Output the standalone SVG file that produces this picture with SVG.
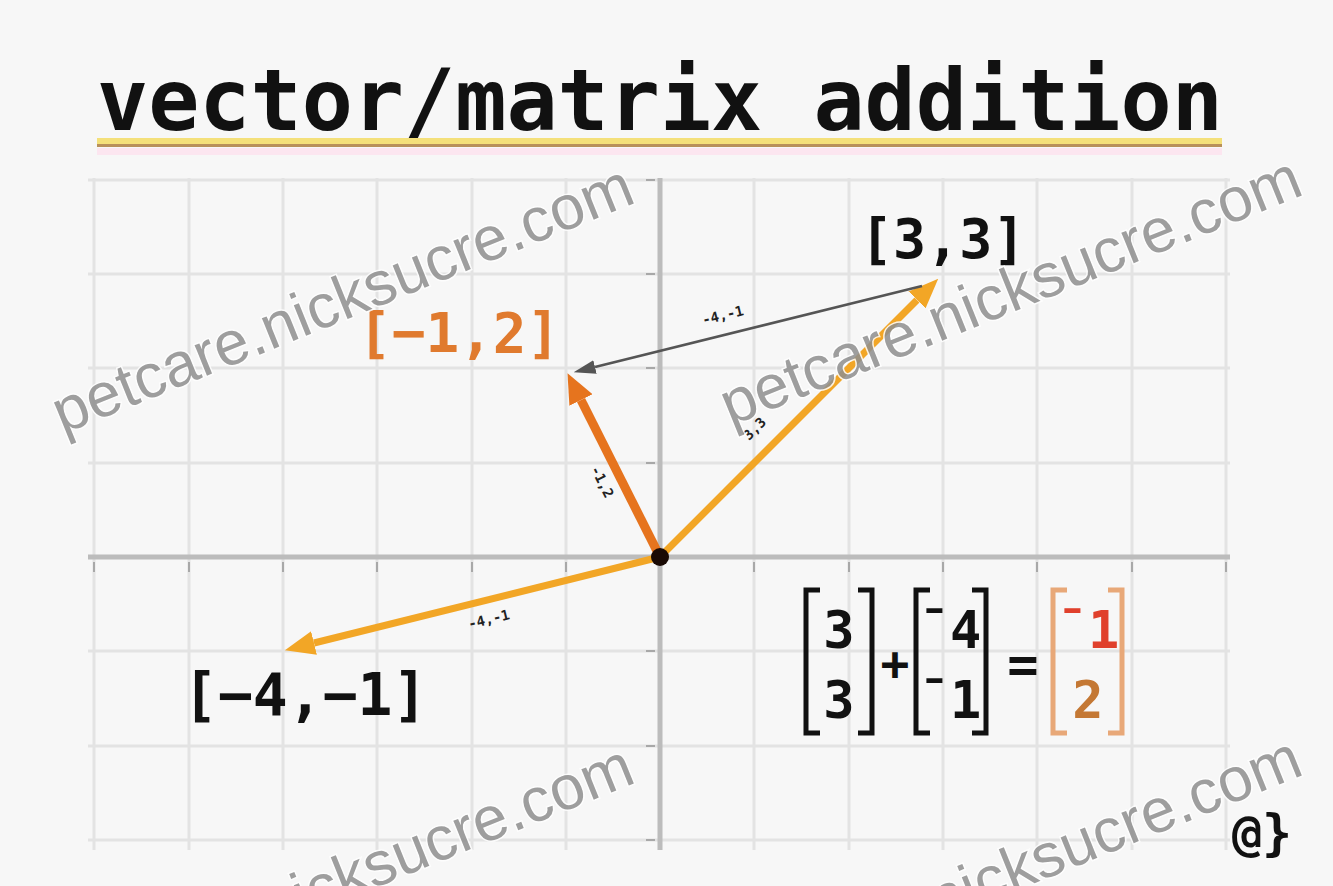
<svg xmlns="http://www.w3.org/2000/svg" width="1333" height="886" viewBox="0 0 1333 886">
<defs>
<style>
.grid line{stroke:#e3e3e3;stroke-width:3}
.axis{stroke:#bcbcbc;stroke-width:5}
.tick{stroke:#a8a8a8;stroke-width:2}
.mono{font-family:"DejaVu Sans Mono","Liberation Mono",monospace;font-weight:bold}
.wm{font-family:"Liberation Sans",Arial,sans-serif;font-size:62px;fill:#8f8f8f;stroke:#ffffff;stroke-width:3;paint-order:stroke;opacity:0.85}
.small{font-family:"DejaVu Sans Mono",monospace;font-weight:bold;font-size:14px;fill:#222}
.brk{fill:none;stroke:#111;stroke-width:5}
</style>
<marker id="ahO" viewBox="0 0 30 24" refX="0" refY="12" markerWidth="30" markerHeight="24" markerUnits="userSpaceOnUse" orient="auto"><path d="M0,0 L30,12 L0,24 z" fill="#f2a626"/></marker>
<marker id="ahD" viewBox="0 0 30 26" refX="0" refY="13" markerWidth="30" markerHeight="26" markerUnits="userSpaceOnUse" orient="auto"><path d="M0,0 L30,13 L0,26 z" fill="#e6741e"/></marker>
<marker id="ahG" viewBox="0 0 22 14" refX="0" refY="7" markerWidth="22" markerHeight="14" markerUnits="userSpaceOnUse" orient="auto"><path d="M0,0 L22,7 L0,14 z" fill="#555"/></marker>
</defs>
<rect width="1333" height="886" fill="#f7f7f7"/>

<g id="title">
<text class="mono" x="97" y="130" font-size="85" fill="#111">vector/matrix addition</text>
<rect x="97" y="138" width="1125" height="6" fill="#f4e07a"/>
<rect x="97" y="144" width="1125" height="3" fill="#b8905a"/>
<rect x="97" y="148" width="1125" height="7" fill="#fce6f0"/>
</g>

<g id="grid" class="grid">
<line x1="88" y1="180" x2="1230" y2="180"/>
<line x1="88" y1="274" x2="1230" y2="274"/>
<line x1="88" y1="368" x2="1230" y2="368"/>
<line x1="88" y1="463" x2="1230" y2="463"/>
<line x1="88" y1="651" x2="1230" y2="651"/>
<line x1="88" y1="746" x2="1230" y2="746"/>
<line x1="88" y1="840" x2="1230" y2="840"/>
<line x1="94" y1="178" x2="94" y2="850"/>
<line x1="189" y1="178" x2="189" y2="850"/>
<line x1="283" y1="178" x2="283" y2="850"/>
<line x1="377" y1="178" x2="377" y2="850"/>
<line x1="472" y1="178" x2="472" y2="850"/>
<line x1="566" y1="178" x2="566" y2="850"/>
<line x1="754" y1="178" x2="754" y2="850"/>
<line x1="849" y1="178" x2="849" y2="850"/>
<line x1="943" y1="178" x2="943" y2="850"/>
<line x1="1037" y1="178" x2="1037" y2="850"/>
<line x1="1132" y1="178" x2="1132" y2="850"/>
<line x1="1226" y1="178" x2="1226" y2="850"/>
</g>

<g id="axes">
<line class="axis" x1="88" y1="557" x2="1230" y2="557"/>
<line class="axis" x1="660" y1="178" x2="660" y2="850"/>
<g class="tick">
<line x1="94" y1="562" x2="94" y2="572"/><line x1="189" y1="562" x2="189" y2="572"/><line x1="283" y1="562" x2="283" y2="572"/><line x1="377" y1="562" x2="377" y2="572"/><line x1="472" y1="562" x2="472" y2="572"/><line x1="566" y1="562" x2="566" y2="572"/><line x1="754" y1="562" x2="754" y2="572"/><line x1="849" y1="562" x2="849" y2="572"/><line x1="943" y1="562" x2="943" y2="572"/><line x1="1037" y1="562" x2="1037" y2="572"/><line x1="1132" y1="562" x2="1132" y2="572"/><line x1="1226" y1="562" x2="1226" y2="572"/>
<line x1="646" y1="180" x2="655" y2="180"/><line x1="646" y1="274" x2="655" y2="274"/><line x1="646" y1="368" x2="655" y2="368"/><line x1="646" y1="463" x2="655" y2="463"/><line x1="646" y1="651" x2="655" y2="651"/><line x1="646" y1="746" x2="655" y2="746"/><line x1="646" y1="840" x2="655" y2="840"/>
</g>
</g>

<g id="connectors">
<line x1="660" y1="557" x2="917" y2="300" stroke="#f2a626" stroke-width="7" marker-end="url(#ahO)"/>
<line x1="660" y1="557" x2="314" y2="643" stroke="#f2a626" stroke-width="7" marker-end="url(#ahO)"/>
<line x1="660" y1="557" x2="581" y2="400" stroke="#e6741e" stroke-width="9" marker-end="url(#ahD)"/>
<line x1="922" y1="286" x2="595" y2="367" stroke="#555" stroke-width="2.5" marker-end="url(#ahG)"/>
<text class="small" transform="translate(724,320) rotate(-14)" text-anchor="middle">-4,-1</text>
<text class="small" transform="translate(490,624) rotate(-14)" text-anchor="middle">-4,-1</text>
<text class="small" transform="translate(598,484) rotate(63)" text-anchor="middle">-1,2</text>
<text class="small" transform="translate(758,432) rotate(-45)" text-anchor="middle">3,3</text>
</g>

<g id="origin"><circle cx="660" cy="557" r="9" fill="#1a0a05"/></g>

<g id="label-33"><text class="mono" x="860" y="258" font-size="55" fill="#111">[3,3]</text></g>
<g id="label-m12"><text class="mono" x="358" y="352" font-size="56" fill="#e07a2e">[−1,2]</text></g>
<g id="label-m4m1"><text class="mono" x="183" y="715" font-size="58" fill="#111">[−4,−1]</text></g>

<g id="matrix-a">
<path class="brk" d="M820,590 H806 V733 H820 M858,590 H872 V733 H858"/>
<text class="mono" x="839" y="648" font-size="52" fill="#111" text-anchor="middle">3</text>
<text class="mono" x="839" y="718" font-size="52" fill="#111" text-anchor="middle">3</text>
</g>
<g id="plus"><text class="mono" x="895" y="680" font-size="48" fill="#111" text-anchor="middle">+</text></g>
<g id="matrix-b">
<path class="brk" d="M930,590 H916 V733 H930 M972,590 H986 V733 H972"/>
<text class="mono" x="950" y="648" font-size="52" fill="#111" text-anchor="middle">¯4</text>
<text class="mono" x="950" y="718" font-size="52" fill="#111" text-anchor="middle">¯1</text>
</g>
<g id="equals"><text class="mono" x="1023" y="682" font-size="52" fill="#111" text-anchor="middle">=</text></g>
<g id="matrix-c">
<path d="M1067,590 H1053 V733 H1067 M1108,590 H1122 V733 H1108" fill="none" stroke="#e8a878" stroke-width="5"/>
<text class="mono" x="1088" y="648" font-size="52" fill="#e0402c" text-anchor="middle">¯1</text>
<text class="mono" x="1088" y="718" font-size="52" fill="#c47834" text-anchor="middle">2</text>
</g>

<g id="signature"><text class="mono" x="1232" y="850" font-size="50" fill="#111">@}</text></g>

<g id="watermarks">
<text class="wm" transform="translate(350,318) rotate(-22)" text-anchor="middle">petcare.nicksucre.com</text>
<text class="wm" transform="translate(1018,310) rotate(-22)" text-anchor="middle">petcare.nicksucre.com</text>
<text class="wm" transform="translate(350,898) rotate(-22)" text-anchor="middle">petcare.nicksucre.com</text>
<text class="wm" transform="translate(1018,890) rotate(-22)" text-anchor="middle">petcare.nicksucre.com</text>
</g>
</svg>
